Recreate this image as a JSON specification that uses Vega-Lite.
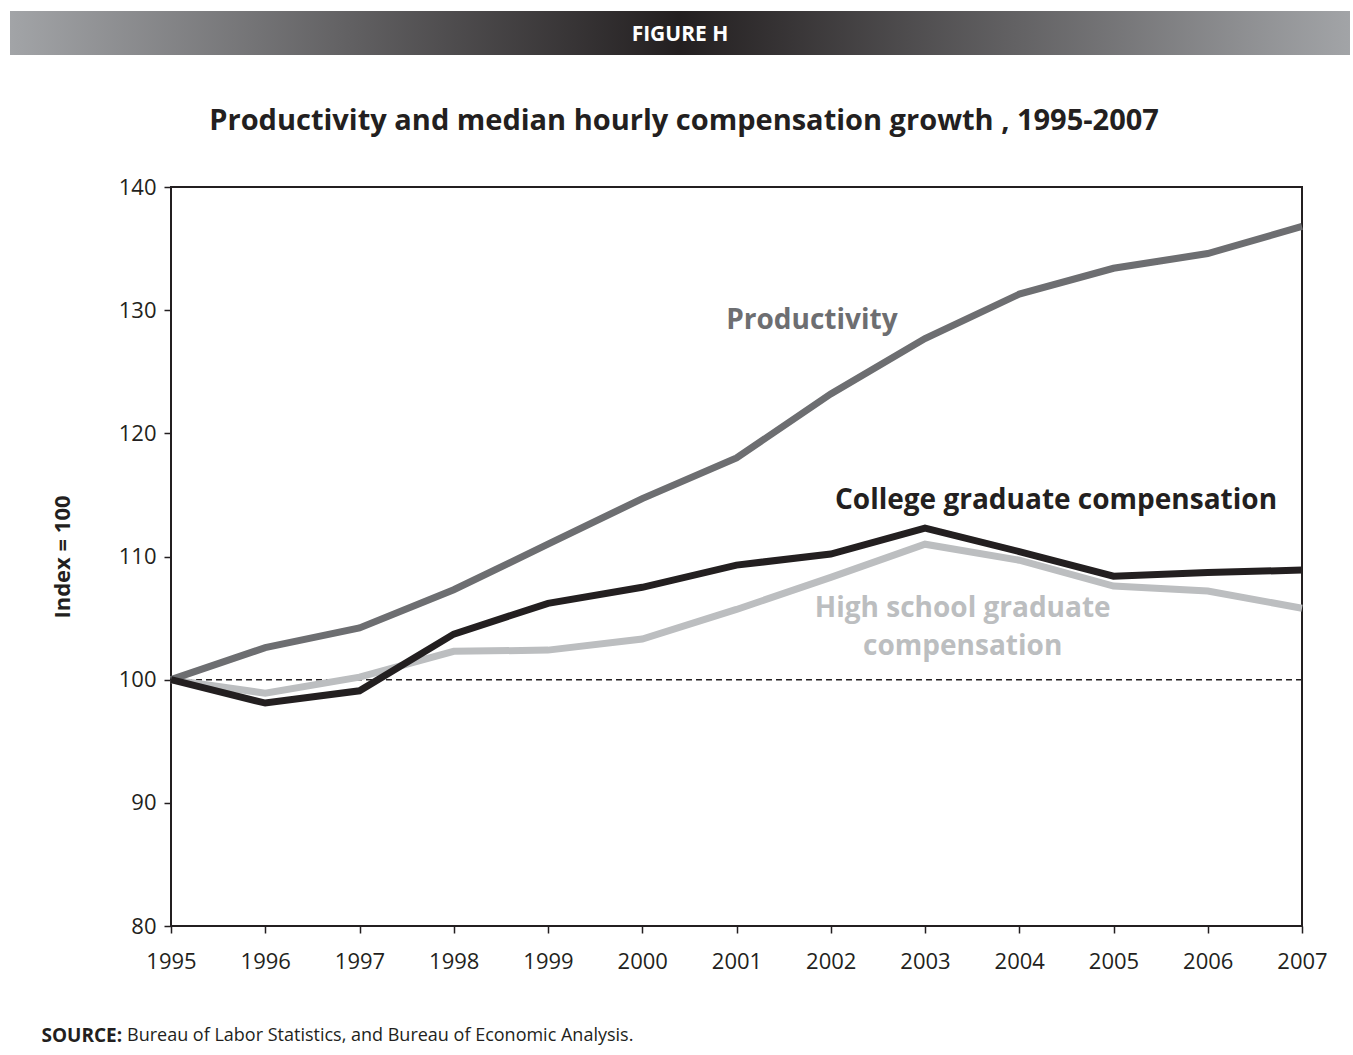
{
  "$schema": "https://vega.github.io/schema/vega-lite/v6.json",
  "background": "white",
  "padding": {"left": 10, "top": 11, "right": 3, "bottom": 2},
  "title": {"text": "Bureau of Labor Statistics, and Bureau of Economic Analysis.", "orient": "bottom", "anchor": "start", "fontSize": 18, "fontWeight": "normal", "font": "Open Sans", "color": "#231f20", "dx": 117, "dy": -23},
  "spacing": 51,
  "datasets": {
    "lines": [
      {"year": 1995, "value": 100, "series": "Productivity"},
      {"year": 1996, "value": 102.6, "series": "Productivity"},
      {"year": 1997, "value": 104.2, "series": "Productivity"},
      {"year": 1998, "value": 107.3, "series": "Productivity"},
      {"year": 1999, "value": 111.0, "series": "Productivity"},
      {"year": 2000, "value": 114.7, "series": "Productivity"},
      {"year": 2001, "value": 118.0, "series": "Productivity"},
      {"year": 2002, "value": 123.2, "series": "Productivity"},
      {"year": 2003, "value": 127.7, "series": "Productivity"},
      {"year": 2004, "value": 131.3, "series": "Productivity"},
      {"year": 2005, "value": 133.4, "series": "Productivity"},
      {"year": 2006, "value": 134.6, "series": "Productivity"},
      {"year": 2007, "value": 136.8, "series": "Productivity"},
      {"year": 1995, "value": 100, "series": "High school"},
      {"year": 1996, "value": 98.9, "series": "High school"},
      {"year": 1997, "value": 100.2, "series": "High school"},
      {"year": 1998, "value": 102.3, "series": "High school"},
      {"year": 1999, "value": 102.4, "series": "High school"},
      {"year": 2000, "value": 103.3, "series": "High school"},
      {"year": 2001, "value": 105.7, "series": "High school"},
      {"year": 2002, "value": 108.3, "series": "High school"},
      {"year": 2003, "value": 111.0, "series": "High school"},
      {"year": 2004, "value": 109.7, "series": "High school"},
      {"year": 2005, "value": 107.6, "series": "High school"},
      {"year": 2006, "value": 107.2, "series": "High school"},
      {"year": 2007, "value": 105.8, "series": "High school"},
      {"year": 1995, "value": 100, "series": "College"},
      {"year": 1996, "value": 98.1, "series": "College"},
      {"year": 1997, "value": 99.1, "series": "College"},
      {"year": 1998, "value": 103.7, "series": "College"},
      {"year": 1999, "value": 106.2, "series": "College"},
      {"year": 2000, "value": 107.5, "series": "College"},
      {"year": 2001, "value": 109.3, "series": "College"},
      {"year": 2002, "value": 110.2, "series": "College"},
      {"year": 2003, "value": 112.3, "series": "College"},
      {"year": 2004, "value": 110.4, "series": "College"},
      {"year": 2005, "value": 108.4, "series": "College"},
      {"year": 2006, "value": 108.7, "series": "College"},
      {"year": 2007, "value": 108.9, "series": "College"}
    ],
    "labels": [
      {"label": "Productivity", "year": 2001.8, "value": 129.1, "series": "Productivity"},
      {"label": "College graduate compensation", "year": 2004.39, "value": 114.5, "series": "College"},
      {"label": "High school graduate\ncompensation", "year": 2003.4, "value": 105.75, "series": "High school"}
    ],
    "ref": [{"value": 100}]
  },
  "vconcat": [
    {
      "width": 1340,
      "height": 44,
      "view": {"stroke": null, "fill": {"gradient": "linear", "x1": 0, "y1": 0, "x2": 1, "y2": 0, "stops": [{"offset": 0, "color": "#a2a4a7"}, {"offset": 0.5, "color": "#231f20"}, {"offset": 1, "color": "#a2a4a7"}]}},
      "data": {"values": [{"label": "FIGURE H"}]},
      "mark": {"type": "text", "color": "white", "fontWeight": "bold", "fontSize": 21, "baseline": "middle", "dy": 2, "font": "Open Sans"},
      "encoding": {"text": {"field": "label"}}
    },
    {
      "spacing": 20,
      "hconcat": [
        {
          "width": 10,
          "height": 10,
          "view": {"stroke": null},
          "data": {"values": []},
          "mark": "text"
        },
        {
          "width": 1131,
          "height": 739,
          "title": {"text": "Productivity and median hourly compensation growth , 1995-2007", "fontSize": 29, "fontWeight": "bold", "font": "Open Sans", "color": "#231f20", "anchor": "middle", "frame": "bounds", "offset": 40},
          "view": {"stroke": "#231f20", "strokeWidth": 2},
          "layer": [
            {
              "data": {"name": "ref"},
              "mark": {"type": "rule", "color": "#231f20", "strokeWidth": 1.5, "strokeDash": [6, 4]},
              "encoding": {
                "y": {"field": "value", "type": "quantitative", "scale": {"domain": [80, 140], "nice": false, "zero": false}, "axis": {"values": [80, 90, 100, 110, 120, 130, 140], "title": "Index = 100", "titleFontSize": 22, "titleFontWeight": "bold", "titleColor": "#231f20", "titlePadding": 44, "labelPadding": 8}}
              }
            },
            {
              "data": {"name": "lines"},
              "transform": [{"filter": "datum.series === 'High school'"}],
              "mark": {"type": "line", "strokeWidth": 7},
              "encoding": {
                "x": {"field": "year", "type": "quantitative", "scale": {"domain": [1995, 2007], "nice": false, "zero": false}, "axis": {"values": [1995, 1996, 1997, 1998, 1999, 2000, 2001, 2002, 2003, 2004, 2005, 2006, 2007], "format": "d", "labelFlush": false, "labelPadding": 18, "title": "SOURCE:", "titleFontSize": 19, "titleFontWeight": "bold", "titleColor": "#231f20", "titleAnchor": "start", "titleAlign": "left", "titleBaseline": "alphabetic", "titleX": -130, "titleY": 115}},
                "y": {"field": "value", "type": "quantitative", "scale": {"domain": [80, 140], "nice": false, "zero": false}},
                "color": {"field": "series", "type": "nominal", "scale": {"domain": ["Productivity", "High school", "College"], "range": ["#6d6e71", "#bcbec0", "#231f20"]}, "legend": null}
              }
            },
            {
              "data": {"name": "lines"},
              "transform": [{"filter": "datum.series === 'Productivity'"}],
              "mark": {"type": "line", "strokeWidth": 7},
              "encoding": {
                "x": {"field": "year", "type": "quantitative"},
                "y": {"field": "value", "type": "quantitative"},
                "color": {"field": "series", "type": "nominal", "legend": null}
              }
            },
            {
              "data": {"name": "lines"},
              "transform": [{"filter": "datum.series === 'College'"}],
              "mark": {"type": "line", "strokeWidth": 7},
              "encoding": {
                "x": {"field": "year", "type": "quantitative"},
                "y": {"field": "value", "type": "quantitative"},
                "color": {"field": "series", "type": "nominal", "legend": null}
              }
            },
            {
              "data": {"name": "labels"},
              "mark": {"type": "text", "fontWeight": "bold", "fontSize": 28, "font": "Open Sans", "align": "center", "baseline": "middle", "lineBreak": "\n", "lineHeight": 38},
              "encoding": {
                "x": {"field": "year", "type": "quantitative"},
                "y": {"field": "value", "type": "quantitative"},
                "text": {"field": "label"},
                "color": {"field": "series", "type": "nominal", "legend": null}
              }
            }
          ]
        }
      ]
    }
  ],
  "config": {
    "font": "Open Sans",
    "axis": {"grid": false, "domain": false, "labelFont": "Open Sans", "labelFontSize": 22, "labelColor": "#231f20", "tickColor": "#231f20", "tickWidth": 1.5, "tickSize": 7, "titleFont": "Open Sans"}
  }
}
